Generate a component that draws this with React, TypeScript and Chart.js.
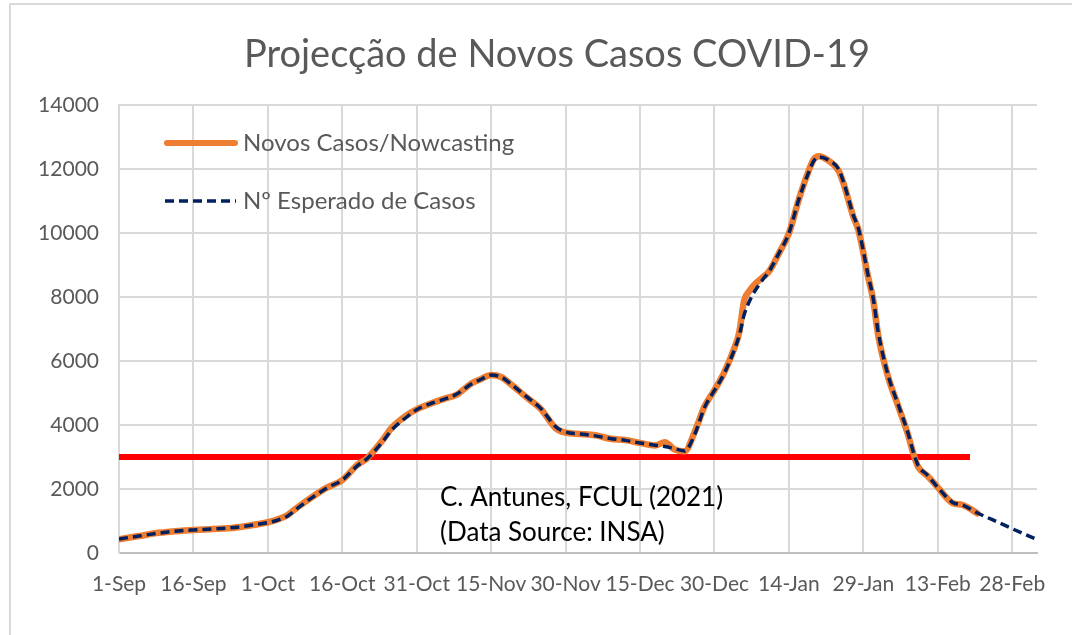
import React, { useEffect, useRef } from "react";
import { Chart, registerables } from "chart.js";

Chart.register(...registerables);

// Days since 1-Sep-2020
const DAYS = [
  0, 4, 8, 12, 15, 19, 22, 26, 30, 32, 34, 36, 39, 42, 45, 48, 50, 53, 55, 58,
  60, 63, 66, 68, 71, 73, 75, 77, 79, 82, 85, 88, 90, 93, 96, 99, 102, 105, 108,
  110, 112, 114, 116, 118, 120, 122, 124, 125, 126, 127, 128, 130, 131, 133, 135,
  137, 139, 140, 141, 143, 145, 146, 148, 149, 151, 152, 153, 155, 157, 159, 160,
  161, 163, 165, 168, 170, 173, 176, 179, 182, 185,
];

const NOWCAST: (number | null)[] = [
  430, 530, 630, 690, 720, 750, 770, 850, 960, 1050, 1190, 1430, 1760, 2050, 2280,
  2750, 2960, 3500, 3920, 4310, 4490, 4680, 4840, 4940, 5300, 5440, 5560, 5500,
  5270, 4880, 4500, 3900, 3760, 3720, 3680, 3570, 3530, 3440, 3360, 3460, 3230,
  3180, 3780, 4580, 5090, 5650, 6400, 6900, 7900, 8180, 8380, 8650, 8800, 9370,
  9990, 11050, 11950, 12300, 12400, 12260, 11950, 11550, 10500, 10100, 8600, 7900,
  6800, 5500, 4600, 3700, 3150, 2700, 2400, 2050, 1560, 1500, 1240, null, null,
  null, null,
];

const EXPECTED = [
  440, 530, 620, 690, 720, 750, 780, 850, 950, 1030, 1160, 1400, 1740, 2040, 2280,
  2720, 2950, 3450, 3850, 4250, 4480, 4680, 4830, 4960, 5280, 5430, 5560, 5500,
  5280, 4900, 4520, 3950, 3780, 3720, 3660, 3580, 3520, 3440, 3370, 3330, 3260,
  3190, 3700, 4550, 5080, 5620, 6350, 6800, 7450, 7850, 8150, 8600, 8800, 9370,
  9990, 11050, 11900, 12250, 12380, 12280, 12000, 11600, 10550, 10150, 8650, 7950,
  6900, 5550, 4650, 3750, 3200, 2750, 2420, 2050, 1580, 1500, 1250, 1040, 830, 620,
  420,
];

const THRESHOLD_DAYS = [0, 171.5];
const THRESHOLD_VALUE = 3000;

const X_TICK_LABELS = [
  "1-Sep", "16-Sep", "1-Oct", "16-Oct", "31-Oct", "15-Nov", "30-Nov", "15-Dec",
  "30-Dec", "14-Jan", "29-Jan", "13-Feb", "28-Feb",
];

const TITLE = "Projecção de Novos Casos COVID-19";
const LEGEND_LABELS = ["Novos Casos/Nowcasting", "Nº Esperado de Casos"];
const NOTE_LINES = ["C. Antunes, FCUL (2021)", "(Data Source: INSA)"];

const FONT = "Lato, 'Open Sans', sans-serif";
const ORANGE = "#ED7D31";
const NAVY = "#002060";
const TEXT_GRAY = "#595959";

const overlayPlugin = {
  id: "overlay",
  beforeDraw(chart: any) {
    const ctx = chart.ctx;
    ctx.save();
    ctx.fillStyle = "#ffffff";
    ctx.fillRect(0, 0, chart.width, chart.height);
    ctx.strokeStyle = "#d9d9d9";
    ctx.lineWidth = 2;
    ctx.strokeRect(10, 4, 1400, 900);
    ctx.restore();
  },
  afterDraw(chart: any) {
    const ctx = chart.ctx;
    ctx.save();
    // Title
    ctx.fillStyle = TEXT_GRAY;
    ctx.font = `38px ${FONT}`;
    ctx.textAlign = "center";
    ctx.textBaseline = "middle";
    ctx.fillText(TITLE, 557, 55);

    // Legend
    ctx.textAlign = "left";
    ctx.font = `24px ${FONT}`;
    ctx.lineCap = "round";
    ctx.strokeStyle = ORANGE;
    ctx.lineWidth = 6;
    ctx.beginPath();
    ctx.moveTo(167, 143);
    ctx.lineTo(235, 143);
    ctx.stroke();
    ctx.fillText(LEGEND_LABELS[0], 243, 143);

    ctx.lineCap = "butt";
    ctx.strokeStyle = NAVY;
    ctx.lineWidth = 3.5;
    ctx.setLineDash([9, 5]);
    ctx.beginPath();
    ctx.moveTo(165, 201);
    ctx.lineTo(236, 201);
    ctx.stroke();
    ctx.setLineDash([]);
    ctx.fillText(LEGEND_LABELS[1], 243, 201);

    // Note
    ctx.fillStyle = "#000000";
    ctx.font = `26px ${FONT}`;
    ctx.fillText(NOTE_LINES[0], 440, 498);
    ctx.fillText(NOTE_LINES[1], 440, 533);
    ctx.restore();
  },
};

export default function App() {
  const ref = useRef<HTMLCanvasElement | null>(null);

  useEffect(() => {
    if (!ref.current) return;
    const chart = new Chart(ref.current, {
      type: "line",
      data: {
        datasets: [
          {
            label: LEGEND_LABELS[1],
            data: DAYS.map((d, i) => ({ x: d, y: EXPECTED[i] })),
            borderColor: NAVY,
            borderWidth: 3.5,
            borderDash: [9, 5],
            pointRadius: 0,
            tension: 0.4,
            cubicInterpolationMode: "monotone",
            order: 1,
          },
          {
            label: LEGEND_LABELS[0],
            data: DAYS.map((d, i) => ({ x: d, y: NOWCAST[i] })),
            borderColor: ORANGE,
            borderWidth: 6.5,
            borderCapStyle: "round",
            borderJoinStyle: "round",
            pointRadius: 0,
            tension: 0.4,
            cubicInterpolationMode: "monotone",
            spanGaps: false,
            order: 2,
          },
          {
            label: "Limiar",
            data: THRESHOLD_DAYS.map((d) => ({ x: d, y: THRESHOLD_VALUE })),
            borderColor: "#FF0000",
            borderWidth: 6,
            pointRadius: 0,
            order: 3,
          },
        ],
      },
      options: {
        animation: false,
        responsive: true,
        maintainAspectRatio: false,
        layout: { padding: { top: 105, right: 35, left: 0, bottom: 0 } },
        plugins: {
          legend: { display: false },
          title: { display: false },
          tooltip: { enabled: false },
        },
        scales: {
          x: {
            type: "linear",
            min: 0,
            max: 185,
            afterFit: (s: any) => {
              s.height = 82;
            },
            grid: { color: "#d9d9d9", lineWidth: 2, drawTicks: false },
            border: { color: "#bfbfbf", width: 2 },
            ticks: {
              stepSize: 15,
              includeBounds: false,
              autoSkip: false,
              maxRotation: 0,
              padding: 19,
              color: TEXT_GRAY,
              font: { family: FONT, size: 21 },
              callback: (v: any) => {
                const i = Math.round(Number(v) / 15);
                return Number(v) % 15 === 0 ? X_TICK_LABELS[i] ?? "" : "";
              },
            },
          },
          y: {
            min: 0,
            max: 14000,
            afterFit: (s: any) => {
              s.width = 119;
            },
            grid: { color: "#d9d9d9", lineWidth: 2, drawTicks: false },
            border: { color: "#d9d9d9", width: 2 },
            ticks: {
              stepSize: 2000,
              padding: 20,
              color: TEXT_GRAY,
              font: { family: FONT, size: 21 },
              callback: (v: any) => String(v),
            },
          },
        },
      },
      plugins: [overlayPlugin],
    });
    return () => chart.destroy();
  }, []);

  return (
    <div style={{ position: "absolute", left: 0, top: 0, width: 1072, height: 635 }}>
      <canvas ref={ref} />
    </div>
  );
}
